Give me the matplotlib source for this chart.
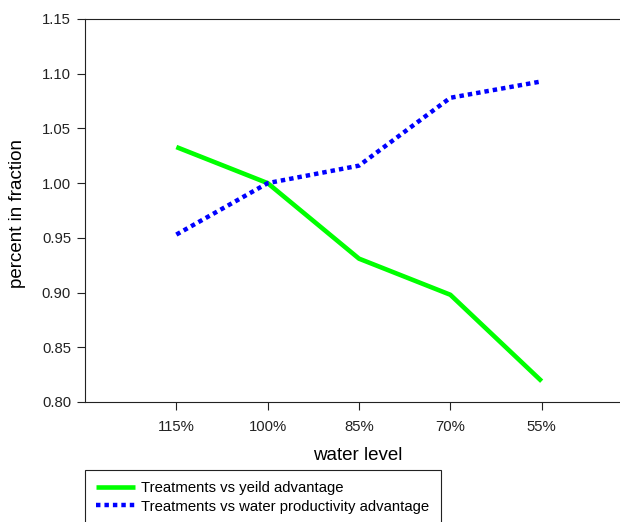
import matplotlib
matplotlib.use('Agg')
import matplotlib.pyplot as plt

# data
levels = ['115%', '100%', '85%', '70%', '55%']
yield_adv = [1.033, 1.000, 0.931, 0.898, 0.819]
water_prod_adv = [0.953, 1.000, 1.016, 1.078, 1.093]
y_ticks = [0.80, 0.85, 0.90, 0.95, 1.00, 1.05, 1.10, 1.15]

plt.rcParams['font.family'] = ['Liberation Sans', 'DejaVu Sans']

fig = plt.figure(figsize=(6.2, 5.22), dpi=100)
# axes run past the right edge of the picture, as in the reference
ax = fig.add_axes([85 / 620, 1 - 402 / 522, 548 / 620, 383 / 522])

x = list(range(1, len(levels) + 1))
ax.plot(x, yield_adv, color='#00ff00', linewidth=3.3,
        solid_capstyle='butt', label='Treatments vs yeild advantage')
ax.plot(x, water_prod_adv, color='#0000ff', linewidth=3.2,
        linestyle=(0, (1, 0.9)), label='Treatments vs water productivity advantage')

ax.set_xlim(0, 6)
ax.set_ylim(0.80, 1.15)
ax.set_xticks(x)
ax.set_xticklabels(levels)
ax.set_yticks(y_ticks)
ax.set_yticklabels([f'{v:.2f}' for v in y_ticks])
ax.tick_params(direction='out', length=6, width=0.8, labelsize=10.7,
               colors='#222222', pad=4)
ax.tick_params(axis='x', pad=7)

ax.spines['right'].set_visible(False)
for s in ['left', 'top', 'bottom']:
    ax.spines[s].set_linewidth(0.8)
    ax.spines[s].set_color('#222222')

fig.text(358 / 620, 1 - 456 / 522, 'water level', fontsize=13.5,
         ha='center', va='center')
fig.text(18 / 620, 1 - 213 / 522, 'percent in fraction', fontsize=13.5,
         ha='center', va='center', rotation=90)

leg = fig.legend(loc='upper left', bbox_to_anchor=(85 / 620, 1 - 470 / 522),
                 bbox_transform=fig.transFigure, borderaxespad=0,
                 fontsize=10.7, handlelength=2.6, handletextpad=0.45,
                 borderpad=0.75, labelspacing=0.3, fancybox=False,
                 framealpha=1)
leg.get_frame().set_edgecolor('#222222')
leg.get_frame().set_linewidth(0.8)

fig.savefig('out.png', dpi=100)
